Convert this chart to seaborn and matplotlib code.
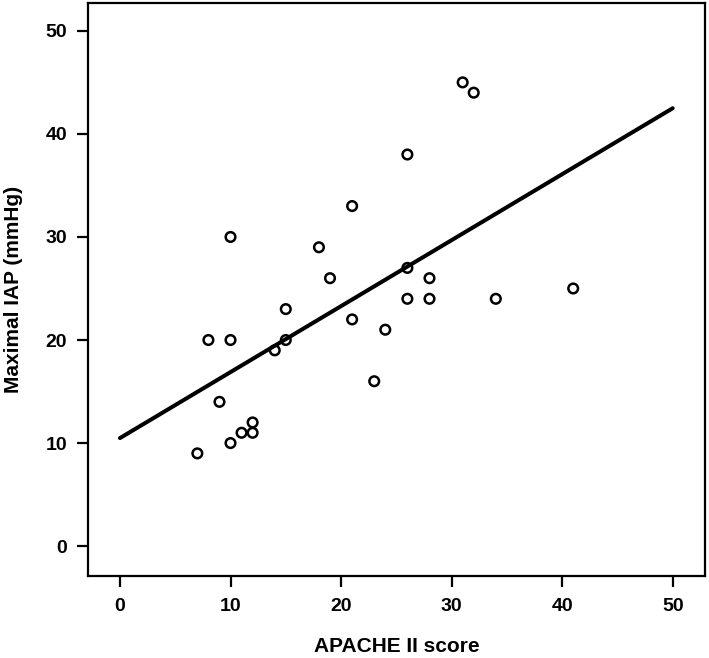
import matplotlib
matplotlib.use("Agg")
import matplotlib.pyplot as plt
import pandas as pd
import seaborn as sns

# APACHE II score vs maximal IAP
apache = [7, 9, 10, 11, 12, 12, 8, 10, 15, 14, 10, 15, 18, 19,
          21, 21, 24, 23, 26, 26, 26, 28, 28, 31, 32, 34, 41]
iap = [9, 14, 10, 11, 11, 12, 20, 20, 20, 19, 30, 23, 29, 26,
       33, 22, 21, 16, 27, 24, 38, 26, 24, 45, 44, 24, 25]
ticks = [0, 10, 20, 30, 40, 50]

df = pd.DataFrame({"APACHE II score": apache, "Maximal IAP (mmHg)": iap})

sns.set_style("white")
plt.rcParams["font.family"] = ["Liberation Sans", "DejaVu Sans"]
plt.rcParams["font.weight"] = "bold"
plt.rcParams["text.color"] = "black"
plt.rcParams["axes.labelcolor"] = "black"
plt.rcParams["xtick.color"] = "black"
plt.rcParams["ytick.color"] = "black"

fig = plt.figure(figsize=(7.09, 6.58), dpi=100)
ax = fig.add_axes([0.124, 0.1246, 0.870, 0.8708])

sns.scatterplot(data=df, x="APACHE II score", y="Maximal IAP (mmHg)", ax=ax,
                facecolor="none", edgecolor="black", linewidth=1.8, s=48,
                zorder=3)

# fit line spans 0..50, so set the limits before regplot extends it
ax.set_xlim(0, 50)
sns.regplot(data=df, x="APACHE II score", y="Maximal IAP (mmHg)", ax=ax,
            ci=None, truncate=False, scatter=False,
            line_kws={"color": "black", "linewidth": 2.9})

ax.set_xlim(-2.9, 52.9)
ax.set_ylim(-2.9, 52.7)
ax.set_xticks(ticks)
ax.set_yticks(ticks)

for side in ax.spines.values():
    side.set_linewidth(1.6)
    side.set_color("black")

ax.tick_params(axis="both", which="major", direction="out", length=8,
               width=1.6, color="black", labelcolor="black", labelsize=14,
               bottom=True, left=True)
ax.tick_params(axis="x", pad=8)
ax.tick_params(axis="y", pad=7)
for lbl in ax.get_xticklabels() + ax.get_yticklabels():
    lbl.set_fontweight("bold")

ax.set_xlabel("APACHE II score", fontsize=15, fontweight="bold", labelpad=16)
ax.set_ylabel("Maximal IAP (mmHg)", fontsize=15, fontweight="bold", labelpad=16)

fig.savefig("out.png", dpi=100)
